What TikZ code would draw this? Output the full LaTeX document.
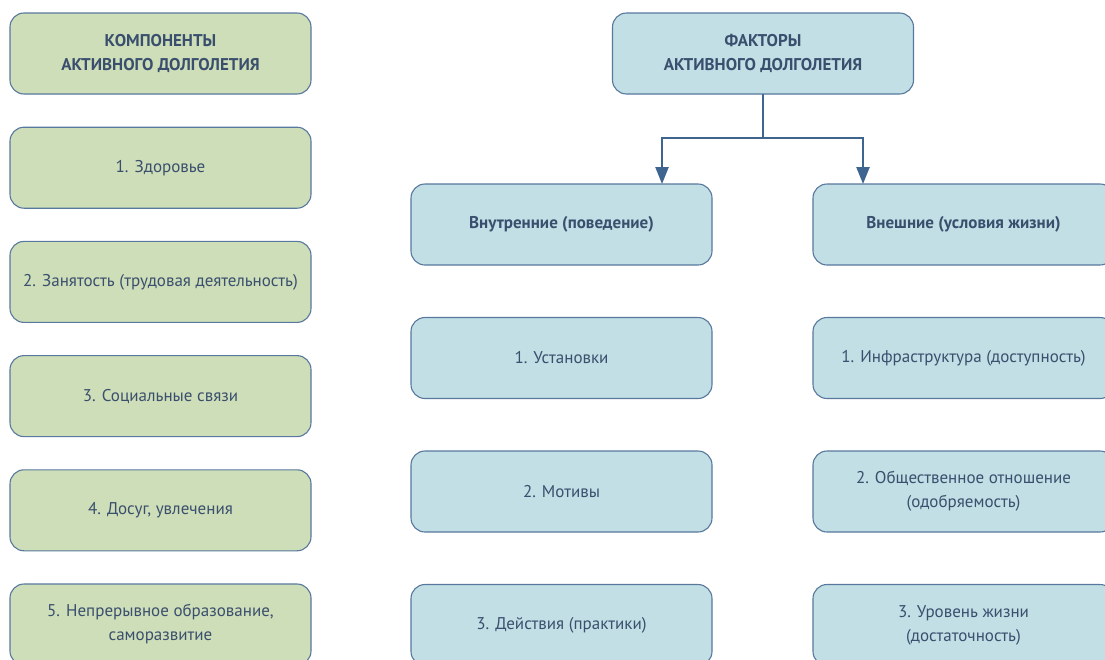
\documentclass[tikz,border=0pt]{standalone}
\usepackage{fontspec}
\setmainfont{PT Sans}
\usepackage{xcolor}
\usetikzlibrary{positioning,arrows.meta}

\definecolor{compfill}{HTML}{CEDEB8}
\definecolor{factfill}{HTML}{C1DFE4}
\definecolor{boxline}{HTML}{58789E}
\definecolor{boxtext}{HTML}{3A4F6E}
\definecolor{linkcol}{HTML}{3E6490}

\begin{document}
\begin{tikzpicture}[x=1pt,y=-1pt,
                box/.style={draw=boxline, line width=1.1pt, rounded corners=14pt, outer sep=0pt,
                            minimum width=301pt, minimum height=81pt, align=center,
                            text=boxtext, font=\fontsize{17}{24}\selectfont},
                comp/.style={box, fill=compfill},
                fact/.style={box, fill=factfill},
                head/.style={font=\fontsize{17}{24}\selectfont\bfseries},
                link/.style={draw=linkcol, line width=2.4pt,
                             -{Triangle[length=17pt,width=13pt]}}]
                \useasboundingbox[fill=white] (0,0) rectangle (1105,659);
                % components
                \node[comp, head] (comphead) at (160.5,53.5) {КОМПОНЕНТЫ\\АКТИВНОГО ДОЛГОЛЕТИЯ};
                \node[comp, below=33.2pt of comphead] (health) {1. Здоровье};
                \node[comp, below=33.2pt of health] (work) {2. Занятость (трудовая деятельность)};
                \node[comp, below=33.2pt of work] (social) {3. Социальные связи};
                \node[comp, below=33.2pt of social] (leisure) {4. Досуг, увлечения};
                \node[comp, below=33.2pt of leisure] (learning) {5. Непрерывное образование,\\саморазвитие};
                % factors
                \node[fact, head] (facthead) at (763,53.5) {ФАКТОРЫ\\АКТИВНОГО ДОЛГОЛЕТИЯ};
                \node[fact, head] (inner) at (561.5,224.5) {Внутренние (поведение)};
                \node[fact, head, right=101pt of inner] (outer) {Внешние (условия жизни)};
                \node[fact, below=52.5pt of inner] (attitudes) {1. Установки};
                \node[fact, below=52.5pt of attitudes] (motives) {2. Мотивы};
                \node[fact, below=52.5pt of motives] (actions) {3. Действия (практики)};
                \node[fact, below=52.5pt of outer] (infra) {1. Инфраструктура (доступность)};
                \node[fact, below=52.5pt of infra] (approval) {2. Общественное отношение\\(одобряемость)};
                \node[fact, below=52.5pt of approval] (living) {3. Уровень жизни\\(достаточность)};
                % arrows
                \draw[link] (facthead.south) -- ++(0,44) -| ([xshift=100.5pt]inner.north);
                \draw[link] (facthead.south) -- ++(0,44) -| ([xshift=-100.5pt]outer.north);
\end{tikzpicture}
\end{document}
